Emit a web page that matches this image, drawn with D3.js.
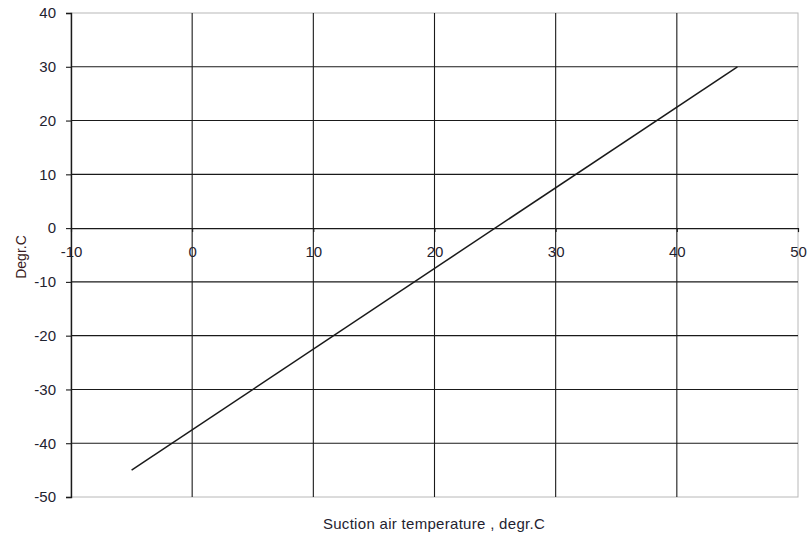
<!DOCTYPE html>
<html>
<head>
<meta charset="utf-8">
<script src="https://cdn.jsdelivr.net/npm/d3@7"></script>
<style>
  html, body { margin: 0; padding: 0; background: #fff; }
  svg { display: block; font-family: "Liberation Sans", Arial, sans-serif; }
</style>
</head>
<body>
<svg id="chart" width="810" height="536"></svg>
<script>
// Outlet temperature vs. suction air temperature (degr.C)
const suctionTemp = [-5, 45];
const outletTemp = [-45, 30];
const xTicks = [-10, 0, 10, 20, 30, 40, 50];
const yTicks = [-50, -40, -30, -20, -10, 0, 10, 20, 30, 40];

const svg = d3.select("#chart");
const margin = { left: 71, top: 13, right: 12, bottom: 39 };
const W = 810, H = 536;
const x = d3.scaleLinear().domain([-10, 50]).range([margin.left, W - margin.right]);
const y = d3.scaleLinear().domain([-50, 40]).range([H - margin.bottom, margin.top]);
const fmt = d => String(d);

// Plot frame (light gray)
svg.append("rect")
  .attr("x", x(-10)).attr("y", y(40))
  .attr("width", x(50) - x(-10)).attr("height", y(-50) - y(40))
  .attr("fill", "none").attr("stroke", "#b8b8b8").attr("stroke-width", 1);

// Grid lines
const g = svg.append("g").attr("stroke", "#1a1a1a").attr("stroke-width", 1.1);
g.selectAll(".vg").data(xTicks.filter(d => d > -10 && d < 50)).join("line")
  .attr("x1", d => x(d)).attr("x2", d => x(d))
  .attr("y1", y(40)).attr("y2", y(-50));
g.selectAll(".hg").data(yTicks.filter(d => d > -50 && d < 40 && d !== 0)).join("line")
  .attr("x1", x(-10)).attr("x2", x(50))
  .attr("y1", d => y(d)).attr("y2", d => y(d));

// Y axis on the left
const yAxis = svg.append("g")
  .attr("transform", `translate(${x(-10)},0)`)
  .call(d3.axisLeft(y).tickValues(yTicks).tickSize(5).tickPadding(10).tickFormat(fmt));
yAxis.select(".domain").attr("stroke", "#1a1a1a").attr("stroke-width", 1.4);
yAxis.selectAll(".tick line").attr("stroke", "#1a1a1a").attr("stroke-width", 1.1);
yAxis.selectAll("text").attr("font-size", 15).attr("fill", "#1f2330");

// X axis along y = 0
const xAxis = svg.append("g")
  .attr("transform", `translate(0,${y(0)})`)
  .call(d3.axisBottom(x).tickValues(xTicks).tickSize(4).tickPadding(14).tickFormat(fmt));
xAxis.select(".domain").attr("stroke", "#1a1a1a").attr("stroke-width", 1.1);
xAxis.selectAll(".tick line").attr("stroke", "#1a1a1a").attr("stroke-width", 1.1);
xAxis.selectAll("text").attr("font-size", 15).attr("fill", "#1f2330");

// Data line
svg.append("path")
  .datum(suctionTemp.map((t, i) => [t, outletTemp[i]]))
  .attr("fill", "none").attr("stroke", "#1a1a1a").attr("stroke-width", 1.5)
  .attr("d", d3.line().x(d => x(d[0])).y(d => y(d[1])));

// Axis titles
svg.append("text")
  .attr("x", 434).attr("y", 529)
  .attr("text-anchor", "middle").attr("font-size", 15)
  .attr("letter-spacing", 0.3).attr("fill", "#1f2330")
  .text("Suction air temperature , degr.C");

svg.append("text")
  .attr("transform", `translate(26,257) rotate(-90)`)
  .attr("text-anchor", "middle").attr("font-size", 14).attr("fill", "#3a1c22")
  .text("Degr.C");
</script>
</body>
</html>
